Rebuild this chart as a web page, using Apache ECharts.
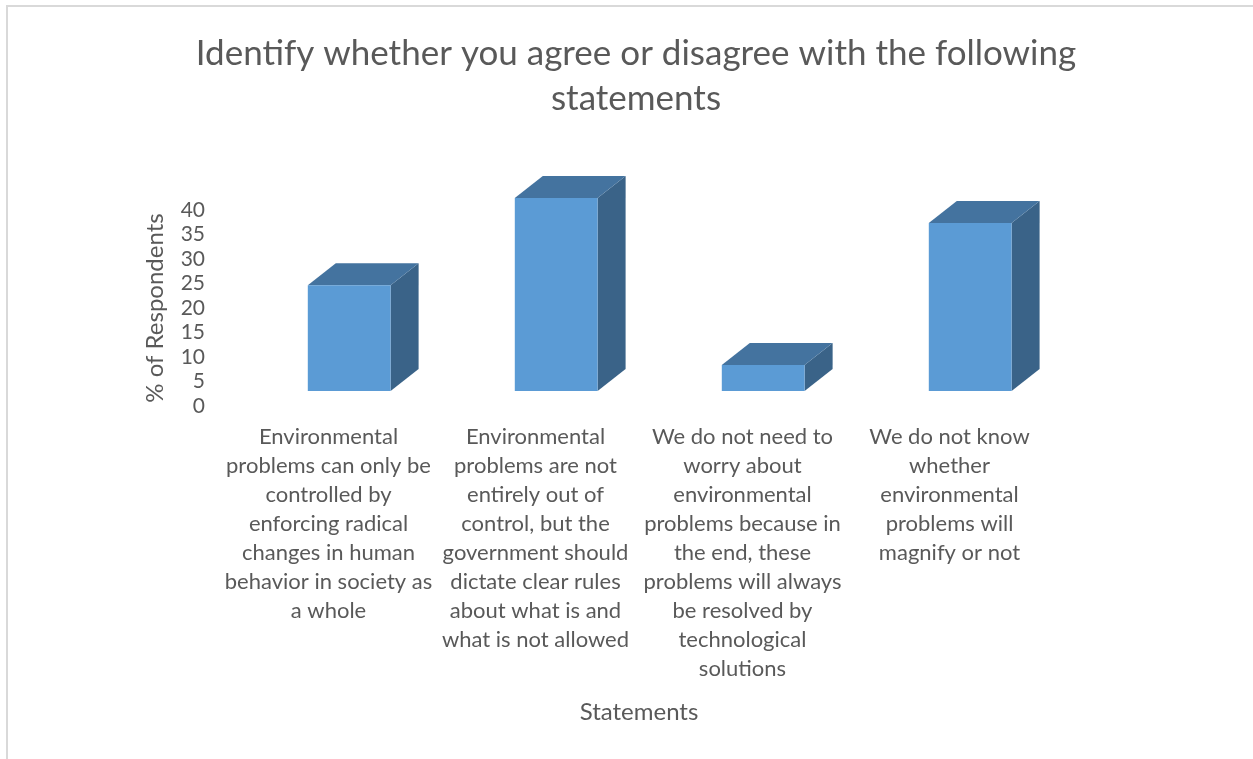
<!doctype html>
<html>
<head>
<meta charset="UTF-8">
<title>Agree or disagree</title>
<script src="https://cdn.jsdelivr.net/npm/echarts@6/dist/echarts.min.js"></script>
<style>
  html, body { margin: 0; padding: 0; background: #fff; }
  #main { width: 1253px; height: 759px; }
</style>
</head>
<body>
<div id="main"></div>
<script type="text/javascript">
// statements (line breaks as in the original)
var categories = [
    'Environmental\nproblems can only be\ncontrolled by\nenforcing radical\nchanges in human\nbehavior in society as\na whole',
    'Environmental\nproblems are not\nentirely out of\ncontrol, but the\ngovernment should\ndictate clear rules\nabout what is and\nwhat is not allowed',
    'We do not need to\nworry about\nenvironmental\nproblems because in\nthe end, these\nproblems will always\nbe resolved by\ntechnological\nsolutions',
    'We do not know\nwhether\nenvironmental\nproblems will\nmagnify or not'
];
// % of respondents
var values = [21.6, 39.4, 5.3, 34.3];
var yTicks = [0, 5, 10, 15, 20, 25, 30, 35, 40];

var textColor = '#595959';
var font = 'Lato';

var myChart = echarts.init(document.getElementById('main'));

// 3d column: front, top, side
function renderBox(params, api) {
    var i = api.value(0);
    var v = api.value(1);
    var base = api.coord([i, 0]);
    var top = api.coord([i, v]);
    var bw = api.size([1, 0])[0];
    var lift = 15, dx = 28, dy = -22;
    var x0 = base[0] - bw * 0.1;
    var x1 = x0 + bw * 0.4;
    var yb = base[1] - lift;
    var yt = top[1] - lift;
    return {
        type: 'group',
        children: [{
            type: 'polygon',
            shape: { points: [[x1, yb], [x1 + dx, yb + dy], [x1 + dx, yt + dy], [x1, yt]] },
            style: { fill: '#3A6388' }
        }, {
            type: 'polygon',
            shape: { points: [[x0, yt], [x0 + dx, yt + dy], [x1 + dx, yt + dy], [x1, yt]] },
            style: { fill: '#44739F' }
        }, {
            type: 'rect',
            shape: { x: x0, y: yt, width: x1 - x0, height: yb - yt },
            style: { fill: '#5B9BD5' }
        }]
    };
}

var option = {
    animation: false,
    backgroundColor: '#fff',
    title: {
        text: 'Identify whether you agree or disagree with the following\nstatements',
        left: 631,
        top: 26,
        textAlign: 'center',
        textStyle: {
            color: textColor,
            fontFamily: font,
            fontWeight: 'normal',
            fontSize: 35,
            lineHeight: 45
        }
    },
    graphic: [{
        type: 'polyline',
        shape: { points: [[7, 800], [7, 6], [1300, 6]] },
        style: { fill: 'none', stroke: '#D9D9D9', lineWidth: 2 },
        silent: true
    }],
    grid: {
        left: 225,
        right: 200,
        top: 210,
        bottom: 353
    },
    xAxis: {
        type: 'category',
        data: categories,
        axisLine: { show: false },
        axisTick: { show: false },
        axisLabel: {
            interval: 0,
            margin: 16,
            color: textColor,
            fontFamily: font,
            fontSize: 22,
            lineHeight: 29
        },
        name: 'Statements',
        nameLocation: 'middle',
        nameGap: 294,
        nameTextStyle: { color: textColor, fontFamily: font, fontSize: 24 }
    },
    yAxis: {
        type: 'value',
        min: yTicks[0],
        max: yTicks[yTicks.length - 1],
        interval: yTicks[1] - yTicks[0],
        axisLine: { show: false },
        axisTick: { show: false },
        splitLine: { show: false },
        axisLabel: {
            margin: 20,
            color: textColor,
            fontFamily: font,
            fontSize: 21
        },
        name: '% of Respondents',
        nameLocation: 'middle',
        nameGap: 58,
        nameTextStyle: { color: textColor, fontFamily: font, fontSize: 24 }
    },
    series: [{
        type: 'custom',
        renderItem: renderBox,
        data: values.map(function (v, i) { return [i, v]; })
    }]
};
myChart.setOption(option);
</script>
</body>
</html>
